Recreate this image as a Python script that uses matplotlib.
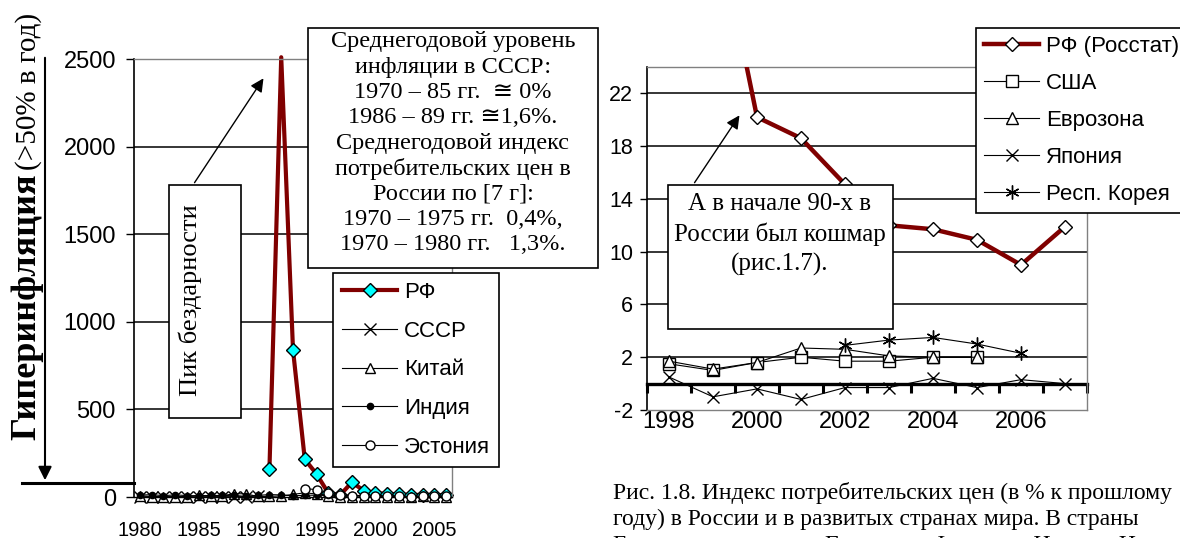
import numpy as np
import matplotlib
matplotlib.use("Agg")
import matplotlib.pyplot as plt
from matplotlib.patches import Rectangle, FancyArrowPatch
from matplotlib.lines import Line2D

nan = np.nan

# ---- left chart: 1980-2006 ----
years_left = list(range(1980, 2007))
rf_left = [nan] * 11 + [160, 2510, 840, 215, 131, 22, 11, 84, 37, 20, 19, 15, 12, 11.7, 10.9, 9.0]
ussr_left = [1, 1, 1, 1, 1, 1, 2, 2, 2, 2, 5] + [nan] * 16
china_left = [7.5, 2.5, 2.0, 2.0, 2.7, 9.3, 6.5, 7.3, 18.8, 18.0, 3.1, 3.5, 6.3, 14.6,
              24.2, 16.9, 8.3, 2.8, -0.8, -1.4, 0.4, 0.7, -0.8, 1.2, 3.9, 1.8, 1.5]
india_left = [11.3, 13.1, 7.9, 11.9, 8.3, 5.6, 8.7, 8.8, 9.4, 3.3, 9.0, 13.9, 11.8, 6.4,
              10.2, 10.2, 9.0, 7.2, 13.2, 4.7, 4.0, 3.8, 4.3, 3.8, 3.8, 4.2, 6.1]
estonia_left = [nan] * 14 + [48, 42, 25, 11, 8, 3, 4, 6, 3.6, 1.3, 3.0, 4.1, 4.4]
left_xticks = [1980, 1985, 1990, 1995, 2000, 2005]
left_yticks = [0, 500, 1000, 1500, 2000, 2500]

# ---- right chart: 1998-2007 ----
years_right = list(range(1998, 2008))
rf_right = [84.4, 36.5, 20.2, 18.6, 15.1, 12.0, 11.7, 10.9, 9.0, 11.9]
usa_right = [1.5, 1.0, 1.6, 2.0, 1.7, 1.7, 2.0, 2.0, nan, nan]
euro_right = [1.7, 1.1, 1.6, 2.7, 2.6, 2.1, 2.0, 2.0, nan, nan]
japan_right = [0.5, -1.0, -0.4, -1.2, -0.3, -0.3, 0.4, -0.3, 0.3, 0.0]
korea_right = [nan, nan, nan, nan, 2.9, 3.3, 3.5, 3.0, 2.3, nan]
right_xticks = [1998, 2000, 2002, 2004, 2006]
right_yticks = [-2, 2, 6, 10, 14, 18, 22]

note_left = ["Среднегодовой уровень", "инфляции в СССР:", "1970 – 85 гг.  ≅ 0%",
             "1986 – 89 гг. ≅1,6%.", "Среднегодовой индекс", "потребительских цен в",
             "России по [7 г]:", "1970 – 1975 гг.  0,4%,", "1970 – 1980 гг.   1,3%."]
note_right = ["А в начале 90-х в", "России был кошмар", "(рис.1.7)."]
caption = ["Рис. 1.8. Индекс потребительских цен (в % к прошлому",
           "году) в России и в развитых странах мира. В страны",
           "Еврозоны включены Германия, Франция, Италия, Нидерланды"]

DARKRED = "#800000"
GRAY = "#808080"
SERIF = ["Liberation Serif", "DejaVu Sans"]
plt.rcParams["font.family"] = ["Liberation Sans", "DejaVu Sans"]
plt.rcParams["axes.unicode_minus"] = False

W, H = 1180, 538


def fx(px):
    return px / W


def fy(py):
    return 1 - py / H


def style_axes(ax):
    for side in ["top", "right", "bottom"]:
        ax.spines[side].set_color(GRAY)
        ax.spines[side].set_linewidth(1.0)
    ax.spines["left"].set_color("black")
    ax.spines["left"].set_linewidth(1.2)
    ax.grid(axis="y", color="black", linewidth=1.1)
    ax.set_axisbelow(True)


fig = plt.figure(figsize=(11.8, 5.38), dpi=100)

# ---------------- left chart ----------------
ax1 = fig.add_axes([fx(134), fy(497), fx(452) - fx(134), fy(59) - fy(497)])
marks = [i for i, v in enumerate(rf_left) if v < 2500]
ax1.plot(years_left, rf_left, color=DARKRED, lw=3, marker="D", ms=7, mfc="#00FFFF",
         mec="black", mew=1, markevery=marks, clip_on=False, label="РФ", zorder=2)
ax1.plot(years_left, ussr_left, color="black", lw=0.8, marker="x", ms=8, mew=1,
         clip_on=False, label="СССР", zorder=3)
ax1.plot(years_left, china_left, color="black", lw=0.8, marker="^", ms=7, mfc="white",
         mec="black", clip_on=False, label="Китай", zorder=3)
ax1.plot(years_left, india_left, color="black", lw=0.8, marker="o", ms=4.5, mfc="black",
         clip_on=False, label="Индия", zorder=3)
ax1.plot(years_left, estonia_left, color="black", lw=0.8, marker="o", ms=6.5, mfc="white",
         mec="black", clip_on=False, label="Эстония", zorder=3)
ax1.set_xlim(1979.5, 2006.5)
ax1.set_ylim(0, 2500)
ax1.set_xticks(left_xticks)
ax1.set_yticks(left_yticks)
style_axes(ax1)
ax1.spines["bottom"].set_color("black")
gl = ax1.yaxis.get_gridlines()
gl[0].set_visible(False)
gl[-1].set_visible(False)
ax1.tick_params(axis="y", length=6, width=1, labelsize=17, pad=7)
ax1.tick_params(axis="x", length=0, labelsize=14.5, pad=17)
leg1 = ax1.legend(loc="upper left", bbox_to_anchor=(fx(333), fy(273)),
                  bbox_transform=fig.transFigure, fancybox=False, edgecolor="black",
                  framealpha=1, fontsize=16, handlelength=2.5, labelspacing=0.8,
                  borderpad=0.4, handletextpad=0.3, borderaxespad=0)
leg1.get_frame().set_linewidth(1.2)

# ---------------- right chart ----------------
ax2 = fig.add_axes([fx(647), fy(410), fx(1087) - fx(647), fy(67) - fy(410)])
ax2.plot(years_right, rf_right, color=DARKRED, lw=3.2, marker="D", ms=7, mfc="white",
         mec="black", mew=1, label="РФ (Росстат)", zorder=4)
ax2.plot(years_right, usa_right, color="black", lw=0.8, marker="s", ms=8, mfc="white",
         mec="black", label="США", zorder=3)
ax2.plot(years_right, euro_right, color="black", lw=0.8, marker="^", ms=8.5, mfc="white",
         mec="black", label="Еврозона", zorder=3)
ax2.plot(years_right, japan_right, color="black", lw=0.8, marker="x", ms=9, mew=1,
         label="Япония", zorder=3)
ax2.plot(years_right, korea_right, color="black", lw=0.8, marker=(6, 2, 0), ms=10, mew=1,
         label="Респ. Корея", zorder=3)
ax2.set_xlim(1997.5, 2007.5)
ax2.set_ylim(-2, 24)
ax2.set_xticks(right_xticks)
ax2.set_yticks(right_yticks)
style_axes(ax2)
ax2.yaxis.get_gridlines()[0].set_visible(False)
ax2.tick_params(axis="y", length=5, width=1, labelsize=15.5, pad=5)
ax2.tick_params(axis="x", length=0, labelsize=17, pad=1)

# category axis crossing at zero
zero_axis = ax2.secondary_xaxis(2 / 26)
zero_axis.set_xticks(np.arange(1997.5, 2008, 1))
zero_axis.tick_params(axis="x", direction="out", length=6.5, width=2.2, labelbottom=False)
zero_axis.spines["bottom"].set_linewidth(2.4)
zero_axis.spines["bottom"].set_color("black")

leg2 = ax2.legend(loc="upper left", bbox_to_anchor=(fx(976), fy(28)),
                  bbox_transform=fig.transFigure, fancybox=False, edgecolor="black",
                  framealpha=1, fontsize=16, handlelength=2.5, labelspacing=0.72,
                  borderpad=0.35, handletextpad=0.3, borderaxespad=0)
leg2.get_frame().set_linewidth(1.2)


# ---------------- annotations ----------------
def fig_box(x0, y0, x1, y1):
    fig.add_artist(Rectangle((fx(x0), fy(y1)), fx(x1) - fx(x0), fy(y0) - fy(y1),
                             transform=fig.transFigure, fc="white", ec="black",
                             lw=1.2, zorder=5))


def fig_arrow(x0, y0, x1, y1, lw=1.0):
    fig.add_artist(FancyArrowPatch((fx(x0), fy(y0)), (fx(x1), fy(y1)),
                                   transform=fig.transFigure, arrowstyle="-|>",
                                   mutation_scale=20, lw=lw, color="black", zorder=6))


fig_box(308, 28, 598, 268)
for i, line in enumerate(note_left):
    fig.text(fx(453), fy(42 + i * 25.3), line, ha="center", va="center",
             fontsize=17.5, family=SERIF, zorder=7)

fig_box(169, 185, 241, 418)
fig.text(fx(190), fy(300), "Пик бездарности", rotation=90, ha="center", va="center",
         fontsize=19, family=SERIF, zorder=7)
fig_arrow(193, 185, 265, 76)

fig_box(668, 185, 893, 329)
for i, line in enumerate(note_right):
    fig.text(fx(780), fy(204 + i * 30), line, ha="center", va="center",
             fontsize=18, family=SERIF, zorder=7)
fig_arrow(693, 185, 741, 113)

# y label with the 50% marker
fig.text(fx(27), fy(440), "Гиперинфляция", rotation=90, ha="center", va="bottom",
         fontsize=26, fontweight="bold", family=SERIF)
fig.text(fx(29), fy(170), "(>50% в год)", rotation=90, ha="center", va="bottom",
         fontsize=21, family=SERIF)
fig_arrow(45, 55, 45, 483, lw=1.5)
fig.add_artist(Line2D([fx(22), fx(134)], [fy(483), fy(483)], lw=2.2, color="black",
                      transform=fig.transFigure))

for i, line in enumerate(caption):
    fig.text(fx(613), fy(499 + i * 26), line, ha="left", va="baseline",
             fontsize=17, family=SERIF)

fig.savefig("out.png", dpi=100)
